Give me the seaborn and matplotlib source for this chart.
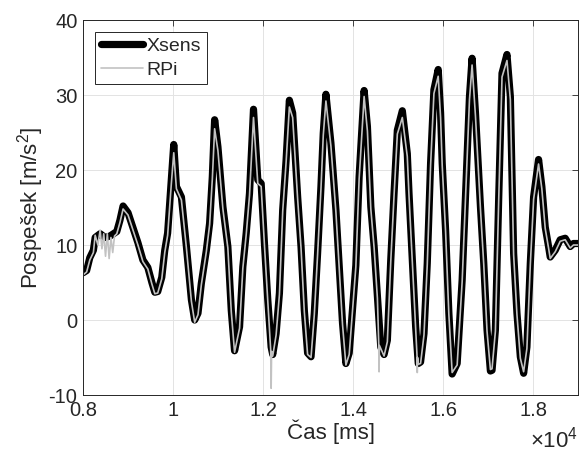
import numpy as np
import pandas as pd
import matplotlib
matplotlib.use('Agg')
import matplotlib.pyplot as plt
import seaborn as sns

# Xsens (time [ms], acceleration [m/s^2])
xsens_t = [8000, 8080, 8150, 8230, 8270, 8380, 8490, 8600, 8750, 8820, 8890, 9000, 9110,
           9220, 9330, 9440, 9530, 9595, 9660, 9750, 9816, 9880, 9960, 10016,
           10075, 10186, 10297, 10408, 10481, 10554, 10629, 10740, 10813, 10873, 10924,
           10997, 11108, 11218, 11294, 11367, 11478, 11551, 11626, 11699, 11788,
           11883, 11958, 12031, 12105, 12180, 12215, 12290, 12364, 12437, 12512, 12585,
           12658, 12769, 12844, 12917, 12990, 13066, 13139, 13212, 13287, 13338, 13397,
           13508, 13619, 13692, 13766, 13841, 13914, 13987, 14062, 14135, 14246,
           14319, 14395, 14468, 14541, 14616, 14689, 14762, 14838, 14911, 14984, 15095,
           15205, 15243, 15316, 15391, 15449, 15500, 15576, 15649, 15723, 15797, 15892,
           15945, 15981, 16056, 16129, 16202, 16313, 16424, 16534, 16587, 16645,
           16720, 16831, 16904, 16977, 17052, 17088, 17163, 17237, 17310, 17420,
           17495, 17568, 17642, 17717, 17790, 17863, 17939, 18012, 18122,
           18195, 18270, 18344, 18381, 18492, 18603, 18714, 18825, 18898, 19000]
xsens_a = [6.3, 6.6, 8.3, 9.3, 11.0, 11.5, 11.0, 11.2, 11.8, 13.3, 15.2, 14.3, 12.3,
           10.3, 8.0, 7.0, 5.0, 3.7, 3.8, 5.7, 9.3, 11.6, 18.5, 23.4,
           17.8, 16.4, 9.8, 2.7, 0.0, 0.9, 4.9, 9.3, 12.9, 19.1, 26.7,
           23.1, 15.1, 9.8, 1.3, -4.1, -0.9, 7.1, 11.6, 16.9, 28.1,
           18.7, 18.2, 10.2, 2.7, -3.6, -4.6, -1.8, 3.6, 14.7, 21.3, 29.3,
           27.6, 16.4, 9.8, 1.3, -4.4, -4.9, 0.9, 8.9, 17.8, 24.9, 30.1,
           23.6, 14.7, 7.1, -0.4, -5.8, -4.4, 1.3, 7.3, 19.1, 30.6,
           25.8, 15.1, 9.8, 3.1, -3.6, -4.6, -2.7, 8.0, 16.9, 25.3, 27.9,
           22.2, 16.9, 8.0, -0.9, -5.8, -5.6, -1.8, 7.6, 20.9, 30.7, 33.4,
           27.6, 20.9, 12.0, 0.9, -7.2, -5.8, 5.3, 21.8, 29.8, 34.9,
           27.6, 15.1, 7.6, -1.3, -6.8, -6.7, -1.3, 16.4, 32.9, 35.4,
           29.8, 8.9, 0.9, -4.9, -7.1, -3.6, 7.6, 16.4, 21.4,
           17.8, 12.4, 9.8, 8.4, 9.3, 10.7, 10.9, 9.8, 10.2, 10.2]

# RPi (time [ms], acceleration [m/s^2])
rpi_t = [8000, 8080, 8150, 8230, 8270, 8330, 8380, 8420, 8460, 8500, 8540, 8580, 8620,
         8660, 8700, 8750, 8820, 8890, 9000, 9110, 9220, 9330, 9440, 9530, 9595, 9660,
         9750, 9816, 9880, 9960, 10016, 10075, 10186, 10297, 10408, 10481, 10554, 10629,
         10740, 10813, 10873, 10924, 10997, 11108, 11218, 11294, 11367, 11478, 11551,
         11626, 11699, 11788, 11883, 11958, 12031, 12105, 12170, 12180, 12190, 12215,
         12290, 12364, 12437, 12512, 12585, 12658, 12769, 12844, 12917, 12990, 13066,
         13139, 13212, 13287, 13338, 13397, 13508, 13619, 13692, 13766, 13841, 13914,
         13987, 14062, 14135, 14246, 14319, 14395, 14468, 14541, 14570, 14578, 14586,
         14616, 14689, 14762, 14838, 14911, 14984, 15095, 15205, 15243, 15316, 15391,
         15420, 15427, 15434, 15449, 15500, 15576, 15649, 15723, 15797, 15892, 15945,
         15981, 16056, 16129, 16202, 16313, 16424, 16534, 16587, 16645, 16720, 16831,
         16904, 16977, 17052, 17088, 17163, 17237, 17310, 17420, 17495, 17568, 17642,
         17717, 17790, 17863, 17939, 18012, 18122, 18195, 18270, 18344, 18381, 18492,
         18603, 18714, 18825, 18898, 19000]
rpi_a = [6.0, 6.4, 8.0, 9.0, 11.3, 10.0, 12.0, 9.5, 11.5, 8.5, 11.5, 8.2, 11.0,
         9.0, 11.2, 11.5, 13.0, 14.8, 14.0, 12.0, 10.0, 7.8, 6.8, 4.8, 3.5, 3.6,
         5.5, 9.0, 11.3, 18.0, 22.3, 17.5, 16.0, 9.6, 2.5, -0.3, 0.7, 4.7,
         9.1, 12.7, 18.8, 25.5, 22.6, 14.8, 9.6, 1.1, -4.3, -1.1, 6.9,
         11.4, 16.6, 27.0, 18.2, 17.8, 10.0, 2.5, -4.0, -9.1, -4.2, -4.8,
         -2.0, 3.4, 14.5, 21.0, 28.4, 27.0, 16.1, 9.6, 1.1, -4.6, -5.0,
         0.7, 8.7, 17.5, 24.6, 29.2, 23.2, 14.4, 6.9, -0.6, -6.0, -4.6,
         1.1, 7.1, 18.8, 29.8, 25.2, 14.8, 9.6, 2.9, -3.0, -6.9, -3.4,
         -3.8, -4.8, -2.9, 7.8, 16.6, 24.8, 27.0, 21.8, 16.6, 7.8, -1.1,
         -4.6, -7.0, -5.0, -5.9, -5.8, -2.0, 7.4, 20.6, 30.2, 32.5, 27.0,
         20.6, 11.8, 0.7, -7.0, -6.0, 5.1, 21.5, 29.4, 34.0, 27.2, 14.8,
         7.4, -1.5, -6.6, -6.5, -1.5, 16.1, 32.4, 34.6, 29.4, 8.7, 0.7,
         -5.1, -6.9, -3.8, 7.4, 16.1, 20.8, 17.5, 12.2, 9.6, 8.2, 9.1,
         10.5, 10.7, 9.6, 10.0, 10.0]

xtick_vals = [8000, 10000, 12000, 14000, 16000, 18000]
xtick_labels = ['0.8', '1', '1.2', '1.4', '1.6', '1.8']
ytick_vals = [-10, 0, 10, 20, 30, 40]

sns.set_style('white')
plt.rcParams['font.family'] = ['Liberation Sans', 'DejaVu Sans']
plt.rcParams['mathtext.fontset'] = 'custom'
plt.rcParams['mathtext.rm'] = 'Liberation Sans'
plt.rcParams['axes.unicode_minus'] = False

fig = plt.figure(figsize=(5.79, 4.62), dpi=100)
ax = fig.add_axes([0.1434, 0.145, 0.855, 0.8117])

df_x = pd.DataFrame({'t': xsens_t, 'a': xsens_a})
df_r = pd.DataFrame({'t': rpi_t, 'a': rpi_a})

sns.lineplot(data=df_x, x='t', y='a', ax=ax, color='black', linewidth=5.2,
             sort=False, estimator=None, label='Xsens',
             solid_joinstyle='round', solid_capstyle='round')
sns.lineplot(data=df_r, x='t', y='a', ax=ax, color='#c2c2c2', linewidth=1.2,
             sort=False, estimator=None, label='RPi')

ax.set_xlim(8000, 19000)
ax.set_ylim(-10, 40)
ax.set_xticks(xtick_vals)
ax.set_xticklabels(xtick_labels)
ax.set_yticks(ytick_vals)
ax.grid(True, color='#e3e3e3', linewidth=0.7)
ax.set_axisbelow(True)
ax.tick_params(direction='in', length=4, width=0.6, color='#262626',
               labelsize=14.5, top=True, right=True, pad=4, labelcolor='#262626')
for s in ax.spines.values():
    s.set_color('#262626')
    s.set_linewidth(0.7)

ax.set_xlabel('Čas [ms]', fontsize=16, color='#262626', labelpad=0)
ax.set_ylabel('Pospešek [m/s$^2$]', fontsize=16, color='#262626', labelpad=2)
ax.text(1.0, -0.085, r'$\times\mathregular{10^{4}}$', transform=ax.transAxes, ha='right',
        va='top', fontsize=16, color='#262626')

leg = ax.legend(loc='upper left', fontsize=14, frameon=True, fancybox=False,
                edgecolor='#262626', framealpha=1, handlelength=2.2,
                handletextpad=0.15, borderpad=0.3, labelspacing=0.3,
                borderaxespad=0.6)
leg.get_frame().set_linewidth(0.7)

fig.savefig('out.png', dpi=100)
